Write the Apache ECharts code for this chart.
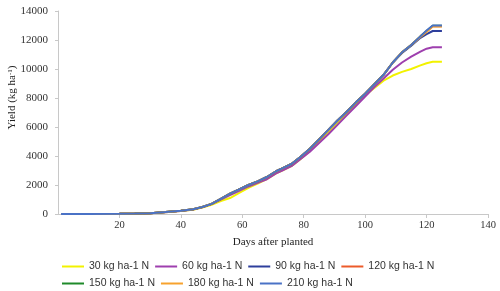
<!DOCTYPE html>
<html>
<head>
<meta charset="utf-8">
<script src="https://cdn.jsdelivr.net/npm/echarts@6/dist/echarts.min.js"></script>
<style>
  html, body { margin: 0; padding: 0; background: #fff; }
  #chart { width: 500px; height: 291px; }
</style>
</head>
<body>
<div id="chart"></div>
<script>
// days after planting (x values shared by all series)
const days = [1, 10, 20, 25, 30, 35, 40, 44, 47, 50, 53, 56, 59, 62, 65, 68, 71, 73, 76, 79, 82, 85, 88, 91, 94, 97, 100, 103, 106, 109, 112, 115, 118, 120, 122, 125];

// yield (kg ha-1) per N rate
const n30 = [0, 0, 10, 30, 60, 120, 200, 300, 440, 640, 900, 1100, 1450, 1800, 2100, 2400, 2800, 3000, 3300, 3800, 4350, 5000, 5600, 6250, 6900, 7550, 8200, 8700, 9200, 9550, 9800, 10000, 10250, 10400, 10500, 10500];
const n60 = [0, 0, 10, 30, 60, 120, 210, 310, 460, 680, 1000, 1300, 1600, 1900, 2150, 2400, 2800, 3000, 3300, 3800, 4300, 4900, 5500, 6150, 6800, 7450, 8100, 8750, 9350, 9950, 10450, 10850, 11200, 11400, 11500, 11500];
const n90 = [0, 0, 10, 30, 60, 130, 220, 330, 480, 700, 1050, 1400, 1700, 2000, 2250, 2550, 2950, 3150, 3450, 3950, 4500, 5150, 5800, 6450, 7050, 7700, 8300, 8950, 9600, 10450, 11100, 11600, 12150, 12400, 12620, 12620];
const n120 = [0, 0, 10, 30, 60, 130, 220, 330, 480, 700, 1050, 1400, 1700, 2000, 2250, 2550, 2950, 3150, 3450, 3950, 4500, 5150, 5800, 6450, 7050, 7700, 8300, 8950, 9600, 10450, 11150, 11650, 12250, 12600, 12950, 12950];
const n150 = [0, 0, 10, 30, 60, 130, 220, 330, 480, 700, 1050, 1400, 1700, 2000, 2250, 2550, 2950, 3150, 3450, 3950, 4500, 5150, 5800, 6450, 7050, 7700, 8300, 8950, 9600, 10450, 11150, 11650, 12250, 12620, 12980, 12980];
const n180 = [0, 0, 10, 30, 60, 130, 220, 330, 480, 700, 1050, 1400, 1700, 2000, 2250, 2550, 2950, 3150, 3450, 3950, 4500, 5150, 5800, 6450, 7050, 7700, 8300, 8950, 9600, 10450, 11150, 11650, 12200, 12550, 12930, 12930];
const n210 = [0, 0, 10, 30, 60, 130, 220, 330, 480, 700, 1050, 1400, 1700, 2000, 2250, 2550, 2950, 3150, 3450, 3950, 4500, 5150, 5800, 6450, 7050, 7700, 8300, 8950, 9600, 10450, 11150, 11650, 12250, 12650, 13000, 13000];

const names = ['30 kg ha-1 N', '60 kg ha-1 N', '90 kg ha-1 N', '120 kg ha-1 N', '150 kg ha-1 N', '180 kg ha-1 N', '210 kg ha-1 N'];
const colors = ['#f2f200', '#9e3fae', '#2e3f9c', '#ec5b2a', '#1f8a2a', '#f7a22e', '#4a72c6'];
const values = [n30, n60, n90, n120, n150, n180, n210];

const chart = echarts.init(document.getElementById('chart'));

chart.setOption({
  animation: false,
  color: colors,
  grid: { left: 58, right: 12, top: 11, bottom: 77, outerBoundsMode: 'none' },
  legend: {
    left: 57,
    top: 256,
    width: 400,
    icon: 'rect',
    itemWidth: 22,
    itemHeight: 2,
    itemGap: 6,
    data: names,
    textStyle: { fontFamily: 'Liberation Sans', fontSize: 10.5, color: '#333', width: 62 }
  },
  xAxis: {
    type: 'value',
    min: 0,
    max: 140,
    interval: 20,
    name: 'Days after planted',
    nameLocation: 'middle',
    nameGap: 23,
    nameMoveOverlap: false,
    nameTextStyle: { fontFamily: 'Liberation Serif', fontSize: 11, color: '#222' },
    splitLine: { show: false },
    axisLine: { lineStyle: { color: '#c8c8c8' } },
    axisTick: { length: 4, lineStyle: { color: '#c8c8c8' } },
    axisLabel: {
      showMinLabel: false,
      margin: 6,
      fontFamily: 'Liberation Serif',
      fontSize: 10.5,
      color: '#333'
    }
  },
  yAxis: {
    type: 'value',
    min: 0,
    max: 14000,
    interval: 2000,
    name: '{a|Yield (kg ha}{s|-1}{a|)}',
    nameLocation: 'middle',
    nameGap: 40,
    nameMoveOverlap: false,
    nameTextStyle: {
      padding: [0, 0, 0, 30],
      rich: {
        a: { fontFamily: 'Liberation Serif', fontSize: 11, color: '#222' },
        s: { fontFamily: 'Liberation Serif', fontSize: 7, color: '#222', verticalAlign: 'top' }
      }
    },
    splitLine: { show: false },
    axisLine: { show: true, lineStyle: { color: '#c8c8c8' } },
    axisTick: { show: true, length: 3, lineStyle: { color: '#c8c8c8' } },
    axisLabel: {
      margin: 10,
      formatter: v => String(v),
      fontFamily: 'Liberation Serif',
      fontSize: 11,
      color: '#333'
    }
  },
  series: names.map((n, i) => ({
    name: n,
    type: 'line',
    symbol: 'none',
    lineStyle: { width: 2 },
    data: days.map((d, j) => [d, values[i][j]])
  }))
});
</script>
</body>
</html>
